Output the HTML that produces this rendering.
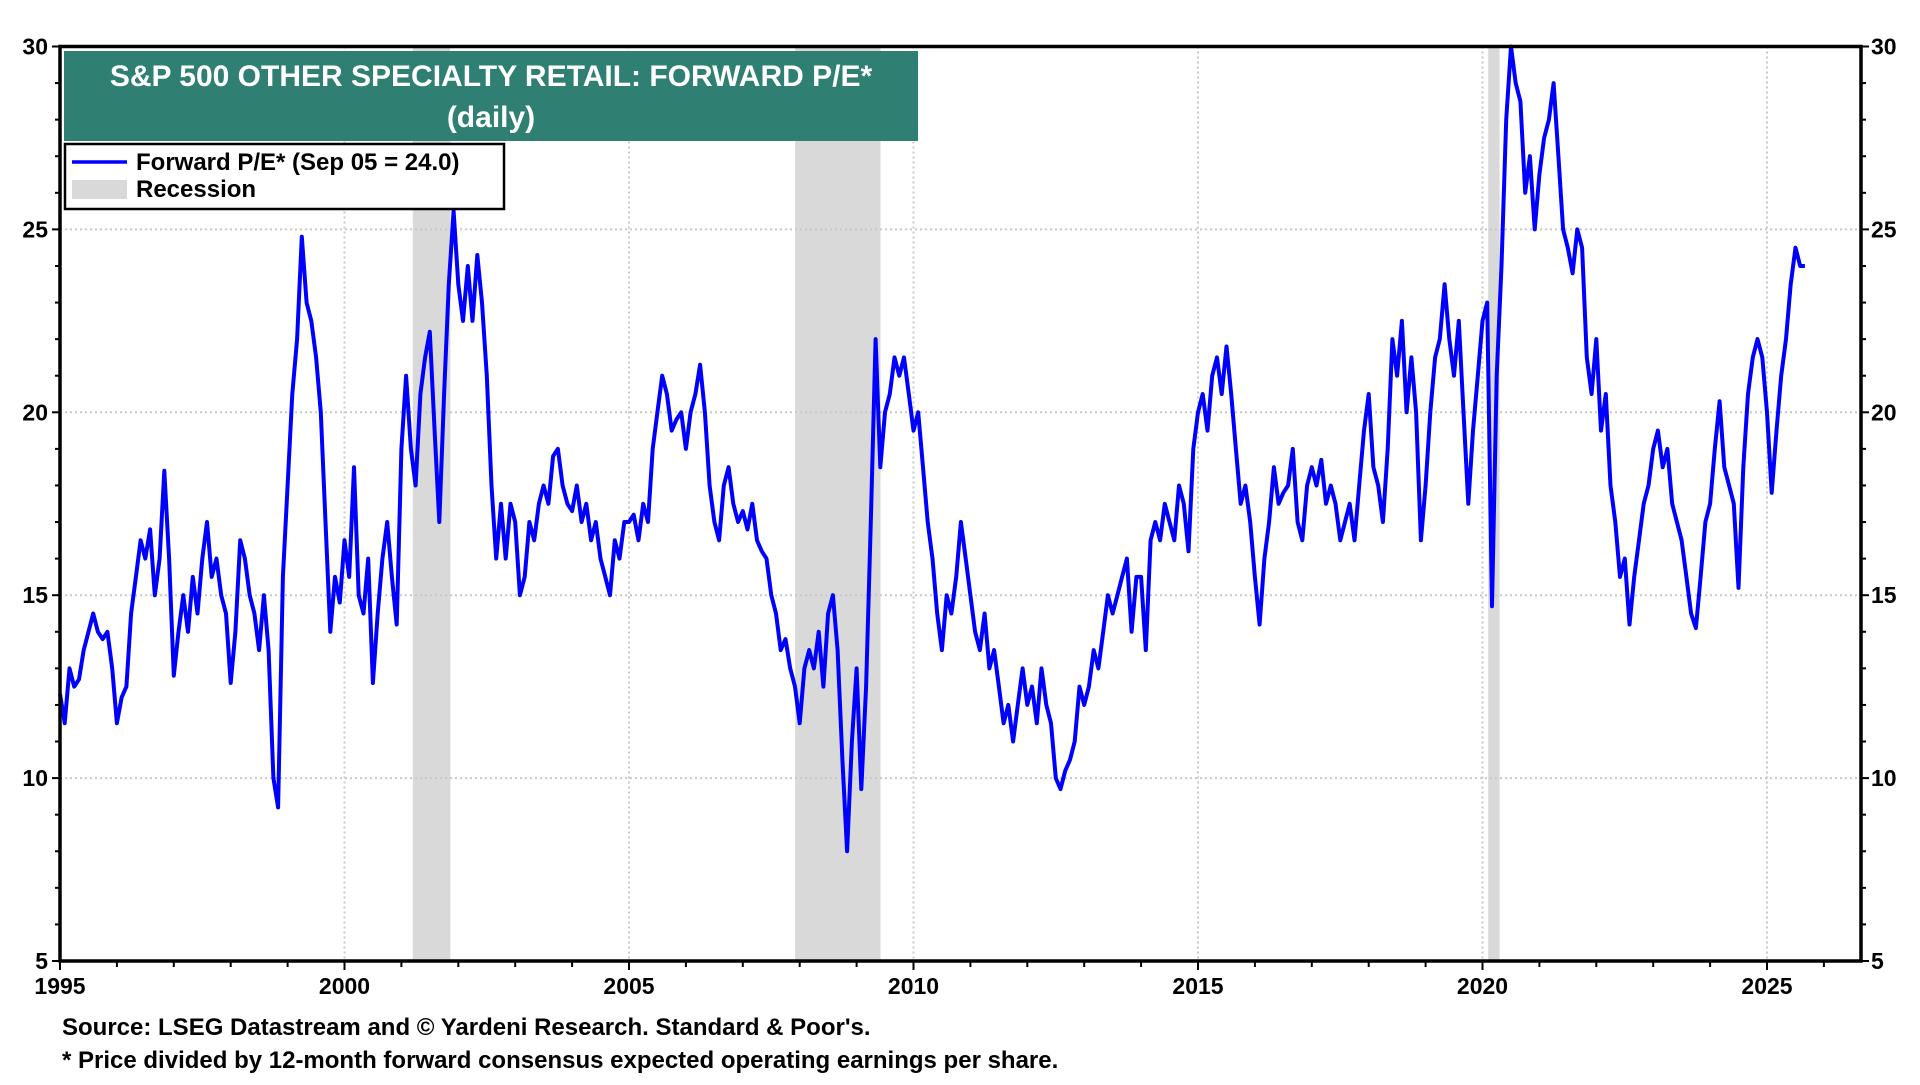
<!DOCTYPE html>
<html><head><meta charset="utf-8"><style>
html,body{margin:0;padding:0;background:#fff;}
body{width:1920px;height:1080px;overflow:hidden;font-family:"Liberation Sans",Arial,sans-serif;}
svg text{font-family:"Liberation Sans",Arial,sans-serif;font-weight:bold;}
</style></head><body>
<svg id="chart" width="1920" height="1080" xmlns="http://www.w3.org/2000/svg">
<g id="rec"></g>
<g id="grid"></g>
<g id="series"></g>
<g id="axes"></g>
<rect x="64" y="51" width="854" height="90" fill="#2f7f73"/>
<text x="491" y="86" fill="#fff" font-size="30" text-anchor="middle">S&amp;P 500 OTHER SPECIALTY RETAIL: FORWARD P/E*</text>
<text x="491" y="127" fill="#fff" font-size="30" text-anchor="middle">(daily)</text>
<g>
<rect x="65" y="144" width="439" height="65" fill="#fff" stroke="#000" stroke-width="2.5"/>
<line x1="72" y1="162" x2="127" y2="162" stroke="#0000ff" stroke-width="3.5"/>
<text x="136" y="170" font-size="24">Forward P/E* (Sep 05 = 24.0)</text>
<rect x="72" y="180" width="55" height="19" fill="#d9d9d9"/>
<text x="136" y="197" font-size="24">Recession</text>
</g>
<text x="62" y="1035" font-size="24">Source: LSEG Datastream and © Yardeni Research. Standard &amp; Poor's.</text>
<text x="62" y="1068" font-size="24">* Price divided by 12-month forward consensus expected operating earnings per share.</text>
</svg>
<script>
const startYear = 1995;
const values = [
12.3,11.5,13.0,12.5,12.7,13.5,14.0,14.5,14.0,13.8,14.0,13.0,
11.5,12.2,12.5,14.5,15.5,16.5,16.0,16.8,15.0,16.0,18.4,16.0,
12.8,14.0,15.0,14.0,15.5,14.5,16.0,17.0,15.5,16.0,15.0,14.5,
12.6,14.0,16.5,16.0,15.0,14.5,13.5,15.0,13.5,10.0,9.2,15.5,
18.0,20.5,22.0,24.8,23.0,22.5,21.5,20.0,17.0,14.0,15.5,14.8,
16.5,15.5,18.5,15.0,14.5,16.0,12.6,14.5,16.0,17.0,15.5,14.2,
19.0,21.0,19.0,18.0,20.5,21.5,22.2,19.5,17.0,20.5,23.5,25.5,
23.5,22.5,24.0,22.5,24.3,23.0,21.0,18.0,16.0,17.5,16.0,17.5,
17.0,15.0,15.5,17.0,16.5,17.5,18.0,17.5,18.8,19.0,18.0,17.5,
17.3,18.0,17.0,17.5,16.5,17.0,16.0,15.5,15.0,16.5,16.0,17.0,
17.0,17.2,16.5,17.5,17.0,19.0,20.0,21.0,20.5,19.5,19.8,20.0,
19.0,20.0,20.5,21.3,20.0,18.0,17.0,16.5,18.0,18.5,17.5,17.0,
17.3,16.8,17.5,16.5,16.2,16.0,15.0,14.5,13.5,13.8,13.0,12.5,
11.5,13.0,13.5,13.0,14.0,12.5,14.5,15.0,13.5,10.5,8.0,11.0,
13.0,9.7,12.5,17.0,22.0,18.5,20.0,20.5,21.5,21.0,21.5,20.5,
19.5,20.0,18.5,17.0,16.0,14.5,13.5,15.0,14.5,15.5,17.0,16.0,
15.0,14.0,13.5,14.5,13.0,13.5,12.5,11.5,12.0,11.0,12.0,13.0,
12.0,12.5,11.5,13.0,12.0,11.5,10.0,9.7,10.2,10.5,11.0,12.5,
12.0,12.5,13.5,13.0,14.0,15.0,14.5,15.0,15.5,16.0,14.0,15.5,
15.5,13.5,16.5,17.0,16.5,17.5,17.0,16.5,18.0,17.5,16.2,19.0,
20.0,20.5,19.5,21.0,21.5,20.5,21.8,20.5,19.0,17.5,18.0,17.0,
15.5,14.2,16.0,17.0,18.5,17.5,17.8,18.0,19.0,17.0,16.5,18.0,
18.5,18.0,18.7,17.5,18.0,17.5,16.5,17.0,17.5,16.5,18.0,19.5,
20.5,18.5,18.0,17.0,19.0,22.0,21.0,22.5,20.0,21.5,20.0,16.5,
18.0,20.0,21.5,22.0,23.5,22.0,21.0,22.5,20.0,17.5,19.5,21.0,
22.5,23.0,14.7,21.0,24.0,28.0,30.0,29.0,28.5,26.0,27.0,25.0,
26.5,27.5,28.0,29.0,27.0,25.0,24.5,23.8,25.0,24.5,21.5,20.5,
22.0,19.5,20.5,18.0,17.0,15.5,16.0,14.2,15.5,16.5,17.5,18.0,
19.0,19.5,18.5,19.0,17.5,17.0,16.5,15.5,14.5,14.1,15.5,17.0,
17.5,19.0,20.3,18.5,18.0,17.5,15.2,18.5,20.5,21.5,22.0,21.5,
20.0,17.8,19.5,21.0,22.0,23.5,24.5,24.0,24.0
];
const recStarts = [2001.2, 2007.92, 2020.1];
const recEnds = [2001.86, 2009.42, 2020.3];
const yTicks = [5,10,15,20,25,30];
const xTickLabels = [1995,2000,2005,2010,2015,2020,2025];

const L=60,R=1861,T=46.5,B=961;
const X0=1995,XPX=56.9;
function xs(yr){return L+(yr-X0)*XPX;}
function ys(v){return B-(v-5)*(B-T)/25;}
const NS='http://www.w3.org/2000/svg';
function mk(tag,parent,attrs){const e=document.createElementNS(NS,tag);for(const k in attrs)e.setAttribute(k,attrs[k]);parent.appendChild(e);return e;}

const rec=document.getElementById('rec');
recStarts.forEach((s,i)=>{
  const r=mk('rect',rec,{x:xs(s),y:T,width:xs(recEnds[i])-xs(s),height:B-T,fill:'#d9d9d9'});
  
  
});
const grid=document.getElementById('grid');
yTicks.forEach(v=>{ if(v===5||v===30)return;
  const g=mk('line',grid,{x1:L,x2:R,y1:ys(v),y2:ys(v),stroke:'#c8c8c8','stroke-width':2,'stroke-dasharray':'2,3'});
  
  
});
xTickLabels.forEach(y=>{ if(y===1995)return;
  const g=mk('line',grid,{x1:xs(y),x2:xs(y),y1:T,y2:B,stroke:'#c8c8c8','stroke-width':2,'stroke-dasharray':'2,3'});
  
  
});
const series=document.getElementById('series');
let d='';
values.forEach((v,i)=>{const yr=startYear+i/12;d+=(i?'L':'M')+xs(yr).toFixed(1)+','+ys(v).toFixed(1);});
const p=mk('path',series,{d:d,fill:'none',stroke:'#0000ff','stroke-width':4,'stroke-linejoin':'round'});



const axes=document.getElementById('axes');
mk('rect',axes,{x:L,y:T,width:R-L,height:B-T,fill:'none',stroke:'#000','stroke-width':3.5});
for(let v=5;v<=30;v++){
  const len=(v%5===0)?8:5;
  mk('line',axes,{x1:L-len,x2:L,y1:ys(v),y2:ys(v),stroke:'#000','stroke-width':2});
  mk('line',axes,{x1:R,x2:R+len,y1:ys(v),y2:ys(v),stroke:'#000','stroke-width':2});
}
yTicks.forEach(v=>{
  const t=mk('text',axes,{x:L-12,y:ys(v)+8,'font-size':23,'text-anchor':'end'});
  t.textContent=v;
  
  
  const t2=mk('text',axes,{x:R+10,y:ys(v)+8,'font-size':23,'text-anchor':'start'});
  t2.textContent=v;
  
  
});
for(let y=1995;y<=2026;y++){
  mk('line',axes,{x1:xs(y),x2:xs(y),y1:B,y2:B+(y%5===0?9:6),stroke:'#000','stroke-width':2});
}
xTickLabels.forEach(y=>{
  const t=mk('text',axes,{x:xs(y),y:B+33,'font-size':23,'text-anchor':'middle'});
  t.textContent=y;
  
  
});
</script>
</body></html>
